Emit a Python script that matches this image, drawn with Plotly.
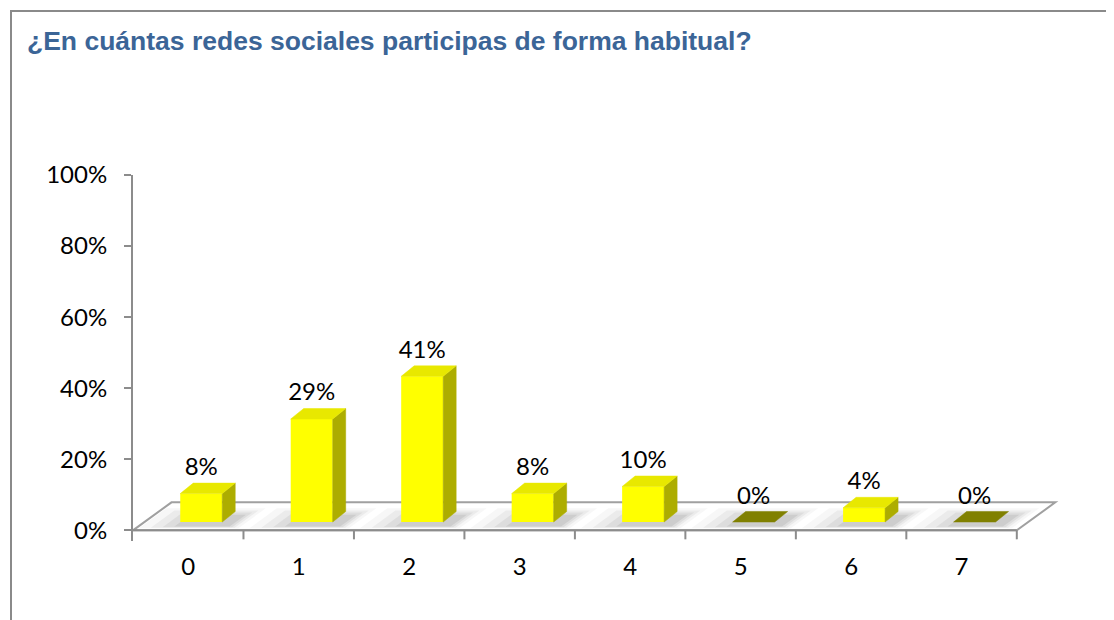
import plotly.graph_objects as go

# ---- data ----
categories = ["0", "1", "2", "3", "4", "5", "6", "7"]
values = [8, 29, 41, 8, 10, 0, 4, 0]
y_tick_vals = [0, 20, 40, 60, 80, 100]
y_tick_text = ["0%", "20%", "40%", "60%", "80%", "100%"]
title_text = "¿En cuántas redes sociales participas de forma habitual?"

# ---- geometry / style (pixel-derived offsets converted to data units) ----
PX_PER_X = 110.5
PX_PER_Y = 3.553
BAR_SHIFT = 13 / PX_PER_X
BAR_HALF = 21 / PX_PER_X
DEPTH_X = 13 / PX_PER_X
DEPTH_Y = 10.5 / PX_PER_Y
BASE = 8.3 / PX_PER_Y
FLOOR_DX = 38.5 / PX_PER_X
FLOOR_DY = 28 / PX_PER_Y
LABEL_OFF = 24.5 / PX_PER_Y
TICK_DOWN = 9 / PX_PER_Y

AXIS_COL = "#8c8c8c"
FRONT_COL = "#FFFF00"
SIDE_COL = "#ADAD00"
TOP_COL = "#E8E800"
ZERO_COL = "#808000"
FONT = "Lato"
FSIZE = 24

# page-pixel helpers (plot area spans page px 133..1061 horizontally, 175..541 vertically)
def pxx(p):
    return (p - 133) / 928

def pxy(p):
    return (541 - p) / 366

n = len(categories)
centers = [i + 0.5 + BAR_SHIFT for i in range(n)]

fig = go.Figure()
shapes = []

# floor
shapes.append(dict(type="path", xref="x", yref="y", layer="below",
                   path=f"M 0 0 L {n} 0 L {n + FLOOR_DX} {FLOOR_DY} L {FLOOR_DX} {FLOOR_DY} Z",
                   fillcolor="white", line=dict(color="#a0a0a0", width=2)))

# soft shadows on the floor
for c in centers:
    for k, (wl, wr, op) in enumerate([(0.40, 0.12, 0.05), (0.30, 0.08, 0.07),
                                      (0.20, 0.05, 0.09), (0.10, 0.02, 0.12)]):
        y0, y1 = 0.6 + k * 0.15, 6.2 - k * 0.6
        xl, xr = c - BAR_HALF - wl, c + BAR_HALF + wr
        sk0, sk1 = y0 / FLOOR_DY * FLOOR_DX, y1 / FLOOR_DY * FLOOR_DX
        shapes.append(dict(type="path", xref="x", yref="y", layer="below",
                           path=f"M {xl + sk0} {y0} L {xr + sk0} {y0} L {xr + sk1} {y1} L {xl + sk1} {y1} Z",
                           fillcolor=f"rgba(90,90,90,{op})", line=dict(width=0)))

# x axis line and tick marks
shapes.append(dict(type="line", xref="x", yref="y", x0=0, x1=n, y0=0, y1=0,
                   line=dict(color=AXIS_COL, width=2)))
for i in range(1, n + 1):
    shapes.append(dict(type="line", xref="x", yref="y", x0=i, x1=i, y0=0, y1=-TICK_DOWN,
                       line=dict(color=AXIS_COL, width=2)))

# chart border
shapes.append(dict(type="rect", xref="paper", yref="paper",
                   x0=pxx(11), x1=pxx(1109), y0=pxy(660), y1=pxy(11),
                   line=dict(color="#8a8a8a", width=2), fillcolor="rgba(0,0,0,0)"))

# front faces
fig.add_trace(go.Bar(x=centers, y=values, base=[BASE] * n, width=2 * BAR_HALF,
                     marker=dict(color=FRONT_COL, line=dict(width=0)),
                     hoverinfo="skip", showlegend=False))

# side + top faces
for c, v in zip(centers, values):
    xl, xr = c - BAR_HALF, c + BAR_HALF
    yt = BASE + v
    if v > 0:
        fig.add_trace(go.Scatter(x=[xr, xr + DEPTH_X, xr + DEPTH_X, xr, xr],
                                 y=[BASE, BASE + DEPTH_Y, yt + DEPTH_Y, yt, BASE],
                                 fill="toself", fillcolor=SIDE_COL, mode="lines",
                                 line=dict(width=0.5, color=SIDE_COL),
                                 hoverinfo="skip", showlegend=False))
        top_col = TOP_COL
    else:
        top_col = ZERO_COL
    fig.add_trace(go.Scatter(x=[xl, xr, xr + DEPTH_X, xl + DEPTH_X, xl],
                             y=[yt, yt, yt + DEPTH_Y, yt + DEPTH_Y, yt],
                             fill="toself", fillcolor=top_col, mode="lines",
                             line=dict(width=0.5, color=top_col),
                             hoverinfo="skip", showlegend=False))

# data labels
fig.add_trace(go.Scatter(x=centers, y=[BASE + v + LABEL_OFF for v in values],
                         mode="text", text=[f"{v}%" for v in values],
                         textposition="middle center",
                         textfont=dict(family=FONT, size=FSIZE, color="black"),
                         hoverinfo="skip", showlegend=False, cliponaxis=False))

fig.add_annotation(text=f"<b>{title_text}</b>", xref="paper", yref="paper",
                   x=pxx(25), y=pxy(41), xanchor="left", yanchor="middle",
                   showarrow=False,
                   font=dict(family="Liberation Sans", size=26.5, color="#3B6597"))

fig.update_layout(
    width=1106, height=612,
    margin=dict(l=125, r=53, t=167, b=79),
    paper_bgcolor="white", plot_bgcolor="white",
    shapes=shapes,
    showlegend=False,
    xaxis=dict(range=[0, 8.4], tickvals=[i + 0.5 for i in range(n)], ticktext=categories,
               ticks="", showline=False, showgrid=False, zeroline=False,
               ticklabelstandoff=9,
               tickfont=dict(family=FONT, size=FSIZE, color="black")),
    yaxis=dict(range=[-3, 100], tickvals=y_tick_vals, ticktext=y_tick_text,
               ticks="outside", ticklen=7, tickwidth=2, tickcolor=AXIS_COL,
               showline=True, linecolor=AXIS_COL, linewidth=2,
               showgrid=False, zeroline=False, ticklabelstandoff=12,
               tickfont=dict(family=FONT, size=FSIZE, color="black")),
)

fig.write_html("out.html")
